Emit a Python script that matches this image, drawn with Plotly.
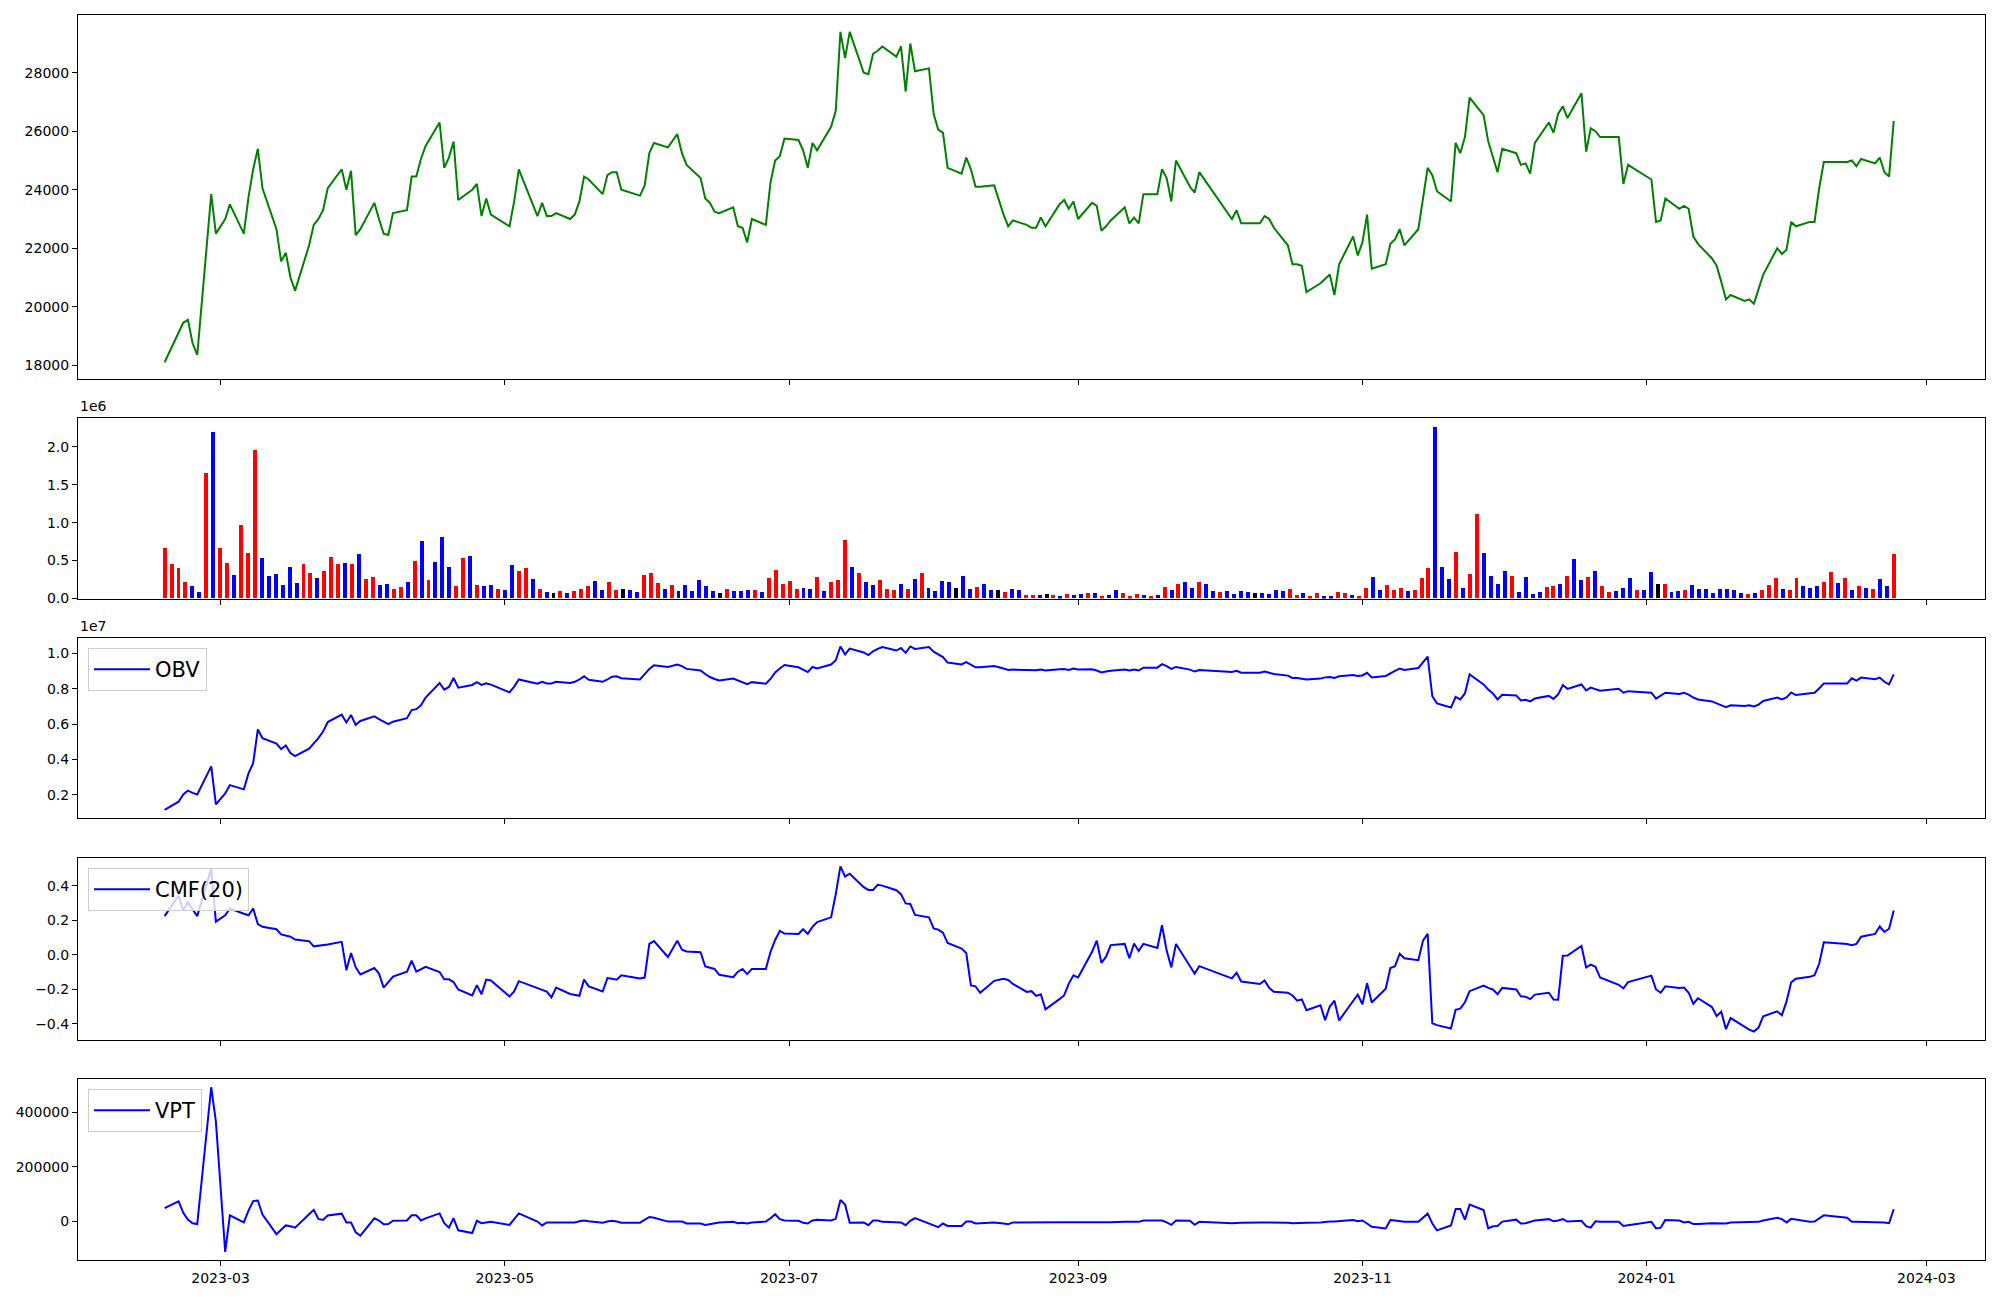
import pandas as pd
import plotly.graph_objects as go

# ---------------- data ----------------
holidays = ["2023-03-01", "2023-05-01", "2023-05-05", "2023-05-29", "2023-06-06",
            "2023-08-15", "2023-09-28", "2023-09-29", "2023-10-02", "2023-10-03",
            "2023-10-09", "2023-12-25", "2023-12-29", "2024-01-01", "2024-02-09",
            "2024-02-12"]
dates = [d for d in pd.bdate_range("2023-02-17", "2024-02-23")
         if d.strftime("%Y-%m-%d") not in holidays]

close = [
    18100, 19100, 19450, 19550, 18750, 18350, 23850, 22500,
    23000, 23500, 22500, 23750, 24700, 25400, 24050, 22650, 21550, 21850, 21000, 20550,
    22100, 22800, 23000, 23300, 24050, 24700, 24000, 24650, 22450, 22650,
    23550, 23000, 22500, 22450, 23200, 23300, 24450, 24450, 25050, 25500, 26300, 24750,
    25100, 25650, 23650, 24000, 24200, 23100, 23700, 23150,
    22750, 23600, 24700, 23100, 23550, 23100, 23100, 23200, 23000, 23150, 23600, 24450,
    24350, 23850, 24500, 24600, 24600, 24000, 23800, 24150,
    25250, 25600, 25450, 25900, 25250, 24850, 24400, 23700, 23550, 23250, 23200, 23400,
    22750, 22700, 22200, 23000, 22800, 24250, 25000, 25150, 25750,
    25700, 25350, 24750, 25600, 25350, 26150, 26700, 29400, 28500, 29400, 28000, 27950,
    28650, 28750, 28900, 28550, 28900, 27350, 29000, 28050, 28150,
    26600, 26050, 25950, 24750, 24550, 25100, 24700, 24100, 24100, 24150, 23150, 22750,
    22950, 22800, 22700, 22700, 23050, 22750, 23500, 23650, 23350, 23600,
    23000, 23550, 23450, 22600, 22750, 22950, 23400, 22850, 23050, 22850, 23850, 23850,
    24700, 24400, 23600, 25000, 24100, 23900, 24600,
    23000, 23300, 22850, 22850, 23100, 23000, 22700, 22100, 21450, 21450, 21400, 20500,
    20800, 20950, 21100, 20400, 21450, 22400, 21750,
    22200, 23150, 21300, 21450, 22150, 22300, 22650, 22100, 22650, 23700, 24750, 24500,
    23950, 23600, 25600, 25250, 25800, 27150, 26550, 25650, 25150, 24600,
    25400, 25250, 24850, 24900, 24550, 25600, 26300, 25950, 26600, 26850, 26450, 27300,
    25300, 26100, 26000, 25800, 25800, 24200, 24850,
    24350, 22900, 22950, 23700, 23350, 23450, 23350, 22400, 22150, 21650, 21400, 20850,
    20250, 20400, 20200, 20250, 20100, 20600, 21100, 22000, 21800, 21950,
    22900, 22750, 22900, 22900, 24050, 24950, 24950, 25000, 24800, 25050, 24900, 25100,
    24600, 24450, 26350,
]

volume = [
    654000, 444000, 392000, 209000, 157000, 78000, 1647000, 2183000, 667000, 458000,
    301000, 967000, 588000, 1948000, 523000, 288000, 314000, 170000, 405000, 196000,
    444000, 327000, 261000, 353000, 536000, 444000, 458000, 444000, 575000, 248000,
    275000, 170000, 183000, 118000, 144000, 209000, 484000, 758000, 235000, 471000,
    810000, 405000, 157000, 523000, 549000, 170000, 157000, 170000, 118000, 105000,
    431000, 353000, 392000, 248000, 118000, 78000, 65000, 92000, 65000, 92000,
    118000, 157000, 222000, 105000, 209000, 105000, 118000, 105000, 78000, 301000,
    327000, 196000, 118000, 170000, 92000, 170000, 92000, 235000, 157000, 92000,
    65000, 118000, 92000, 92000, 105000, 105000, 78000, 261000, 366000, 183000,
    222000, 118000, 131000, 118000, 275000, 92000, 209000, 235000, 771000, 405000,
    327000, 209000, 170000, 235000, 118000, 105000, 183000, 118000, 248000, 327000,
    131000, 92000, 222000, 209000, 131000, 288000, 118000, 144000, 183000, 105000,
    105000, 78000, 118000, 105000, 39000, 39000, 39000, 52000, 39000, 26000,
    52000, 39000, 52000, 65000, 65000, 26000, 39000, 105000, 65000, 26000,
    52000, 39000, 26000, 39000, 144000, 105000, 183000, 209000, 131000, 209000,
    183000, 92000, 78000, 92000, 52000, 92000, 78000, 65000, 65000, 52000,
    105000, 92000, 118000, 39000, 65000, 26000, 65000, 26000, 26000, 78000,
    65000, 39000, 26000, 131000, 275000, 105000, 170000, 105000, 131000, 92000,
    105000, 261000, 392000, 2261000, 405000, 248000, 614000, 131000, 314000, 1111000,
    601000, 288000, 183000, 353000, 288000, 78000, 275000, 52000, 78000, 144000,
    157000, 183000, 288000, 510000, 235000, 275000, 353000, 157000, 78000, 92000,
    131000, 261000, 105000, 105000, 340000, 183000, 183000, 78000, 92000, 105000,
    170000, 118000, 118000, 65000, 118000, 118000, 105000, 65000, 52000, 65000,
    105000, 170000, 261000, 118000, 105000, 261000, 157000, 131000, 157000, 209000,
    340000, 196000, 261000, 105000, 157000, 131000, 118000, 248000, 157000, 575000,
]

# candle direction per bar: r = up, b = down, k = unchanged
direction = list(
    "rrrrbbrbrr" "brrrbbbbbb" "rrbrrrbrbr" "rbbrrbrbrb" "bbrrbrbbrb"
    "brrbrbkrbr" "rrbbrrkbbr" "rrbrbbbbbb" "krbbbrbrrr" "rrbbrbrrrb"
    "rbbrrrbrbr" "bbbbkbbrbb" "krbbrrbkrb" "rbbrbrbbrr" "rbrbrbrbbr"
    "bbrbbbbkbb" "bbrrbrrbbr" "rbrrbbrrrb" "rrrbbbrbrr" "bbbbrbbbbr"
    "rbrbbrbrrb" "bbrbbkrbbr" "bbbbbbbbrb" "rrrbrrbbbr" "rbrbrbrbbr"
)

obv = [
    1140000, 1600000, 2010000, 2230000, 2100000, 2010000, 3600000, 1450000,
    2070000, 2540000, 2300000, 3200000, 3780000, 5690000, 5200000, 4890000, 4580000, 4780000,
    4360000, 4180000, 4600000, 4890000, 5200000, 5570000, 6110000, 6530000, 6090000, 6510000,
    5950000, 6170000,
    6440000, 6280000, 6130000, 5990000, 6130000, 6330000, 6790000, 6840000, 7060000, 7500000,
    8320000, 7950000, 8100000, 8610000, 8060000, 8210000, 8370000, 8210000, 8300000, 8230000,
    7790000, 8120000, 8520000, 8280000, 8390000, 8300000, 8300000, 8390000, 8320000, 8390000,
    8520000, 8700000, 8500000, 8390000, 8520000, 8680000, 8700000, 8590000, 8520000, 8790000,
    9120000, 9320000, 9230000, 9370000, 9280000, 9120000, 9030000, 8830000, 8660000, 8550000,
    8460000, 8570000, 8480000, 8390000, 8260000, 8370000, 8280000, 8550000, 8920000, 9140000,
    9340000,
    9210000, 9080000, 8940000, 9230000, 9140000, 9370000, 9610000, 10390000, 9940000, 10270000,
    10050000, 9900000, 10120000, 10250000, 10360000, 10160000, 10300000, 10030000, 10390000,
    10250000, 10360000,
    10100000, 9940000, 9790000, 9480000, 9370000, 9500000, 9370000, 9210000, 9210000, 9280000,
    9140000, 9060000, 9080000, 9060000, 9040000, 9040000, 9080000, 9030000, 9100000, 9120000,
    9060000, 9140000,
    9080000, 9100000, 9030000, 8920000, 8970000, 9010000, 9080000, 9030000, 9080000, 9030000,
    9190000, 9190000, 9390000, 9280000, 9120000, 9230000, 9080000, 8970000, 9060000,
    8940000, 9010000, 8900000, 8900000, 8970000, 8900000, 8830000, 8740000, 8610000, 8610000,
    8570000, 8520000, 8570000, 8640000, 8660000, 8610000, 8700000, 8770000, 8720000,
    8750000, 8900000, 8640000, 8720000, 8880000, 9010000, 9140000, 9060000, 9170000, 9500000,
    9810000, 7570000, 7170000, 6930000, 7530000, 7390000, 7730000, 8810000, 8240000, 7950000,
    7730000, 7390000,
    7660000, 7620000, 7330000, 7370000, 7280000, 7440000, 7590000, 7420000, 7680000, 8210000,
    7990000, 8240000, 7900000, 8060000, 7990000, 7880000, 7990000, 7770000, 7860000,
    7770000, 7440000, 7600000, 7770000, 7700000, 7770000, 7660000, 7500000, 7390000, 7280000,
    7170000, 7060000, 6950000, 7060000, 7020000, 7060000, 6990000, 7100000, 7300000, 7500000,
    7390000, 7500000,
    7790000, 7640000, 7750000, 7770000, 8010000, 8300000, 8300000, 8590000, 8460000, 8630000,
    8540000, 8630000, 8390000, 8240000, 8810000,
]

cmf = [
    0.223, 0.343, 0.255, 0.304, 0.262, 0.223, 0.499, 0.191,
    0.228, 0.267, 0.237, 0.228, 0.267, 0.177, 0.161, 0.147, 0.117, 0.110, 0.104, 0.087,
    0.078, 0.048, 0.051, 0.053, 0.058, 0.074, -0.090, 0.009, -0.074, -0.115,
    -0.078, -0.110, -0.191, -0.159, -0.127, -0.099, -0.035, -0.099, -0.085, -0.071,
    -0.101, -0.143, -0.143, -0.159, -0.202, -0.237, -0.177, -0.230, -0.145, -0.150,
    -0.242, -0.214, -0.154, -0.191, -0.202, -0.214, -0.248, -0.191, -0.228, -0.232,
    -0.239, -0.145, -0.184, -0.214, -0.136, -0.140, -0.145, -0.120, -0.138, -0.133,
    0.062, 0.078, -0.014, 0.081, 0.028, 0.018, 0.014, -0.069, -0.074, -0.083,
    -0.117, -0.131, -0.099, -0.083, -0.113, -0.083, -0.083, 0.016, 0.085, 0.138, 0.122,
    0.120, 0.147, 0.120, 0.161, 0.189, 0.216, 0.350, 0.511, 0.453, 0.469,
    0.391, 0.375, 0.375, 0.405, 0.400, 0.373, 0.350, 0.297, 0.294, 0.230, 0.216,
    0.152, 0.145, 0.127, 0.067, 0.035, 0.009, -0.179, -0.184, -0.221, -0.152,
    -0.140, -0.147, -0.170, -0.216, -0.212, -0.239, -0.230, -0.317, -0.258, -0.237,
    -0.168, -0.120,
    -0.133, 0.016, 0.081, -0.048, -0.012, 0.055, 0.062, -0.021, 0.064, 0.021,
    0.062, 0.039, 0.170, 0.023, -0.074, 0.062, -0.067, -0.110, -0.067,
    -0.138, -0.106, -0.156, -0.170, -0.150, -0.193, -0.216, -0.221, -0.237, -0.267,
    -0.260, -0.322, -0.294, -0.380, -0.301, -0.267, -0.382, -0.269, -0.232,
    -0.288, -0.166, -0.278, -0.198, -0.078, -0.067, 0.005, -0.021, -0.032, 0.081,
    0.120, -0.398, -0.409, -0.428, -0.320, -0.313, -0.276, -0.212, -0.179, -0.193,
    -0.202, -0.230,
    -0.193, -0.202, -0.242, -0.244, -0.258, -0.232, -0.221, -0.260, -0.262, -0.007,
    -0.005, 0.051, -0.074, -0.058, -0.071, -0.133, -0.175, -0.196, -0.159,
    -0.122, -0.202, -0.221, -0.184, -0.193, -0.191, -0.221, -0.285, -0.253, -0.304,
    -0.357, -0.331, -0.432, -0.368, -0.421, -0.435, -0.446, -0.423, -0.357, -0.329,
    -0.352, -0.271,
    -0.161, -0.140, -0.129, -0.120, -0.053, 0.071, 0.062, 0.055, 0.062, 0.104,
    0.120, 0.163, 0.131, 0.150, 0.255,
]

vpt = [
    49000, 74000, 32000, 7000, -6000, -9000, 491000, 366000,
    -111000, 23000, -3000, 40000, 75000, 77000, 26000, -46000, -30000, -14000, -17000, -22000,
    27000, 43000, 10000, 6000, 22000, 29000, -3000, -3000, -39000, -51000,
    12000, 4000, -10000, -9000, 3000, 4000, 23000, 23000, 4000, 12000,
    30000, -6000, -22000, 12000, -32000, -42000, 3000, -6000, -3000, -1000,
    -12000, 9000, 30000, 0, -14000, -3000, -3000, -3000, -3000, -3000,
    1000, 4000, 1000, -4000, 0, 3000, 0, -4000, -4000, 7000,
    17000, 14000, 0, 0, 0, -7000, -7000, -12000, -9000, -4000,
    -3000, -1000, -6000, -4000, -7000, -3000, 0, 12000, 27000, 9000, 4000,
    3000, -4000, -7000, 4000, 7000, 4000, 10000, 79000, 62000, -4000,
    -3000, -13000, 4000, 4000, -1000, -3000, -3000, -13000, 3000, 13000, -7000,
    -14000, -20000, -7000, -16000, -16000, 0, 0, -7000, -6000, -3000,
    -7000, -10000, -3000, -2000, -2000, -1000, -1000, -2000, -2000, -2000, -1000, -2000,
    -2000, -2000, -2000, -4000, -3000, -2000, -1000, -1000, -1000, -1000,
    4000, 4000, 4000, -3000, -12000, 4000, 3000, -12000, -1000,
    -6000, -5000, -4000, -3000, -3000, -3000, -3000, -4000, -6000, -5000,
    -3000, -4000, -3000, -1000, 0, 0, 1000, 6000, 1000,
    4000, -7000, -19000, -25000, 6000, 4000, 1000, -1000, -1000, 14000,
    29000, -7000, -32000, -14000, 46000, 46000, 7000, 62000, 42000, -25000, -17000, -16000,
    0, 7000, -7000, -6000, 0, 4000, 9000, 1000, 4000, 9000,
    0, 3000, -17000, -22000, 1000, -1000, -1000, -16000, -13000,
    -1000, -25000, -22000, 6000, 4000, -3000, -1000, -9000, -9000, -6000,
    -6000, -7000, -7000, -3000, -1000, -1000, -1000, -1000, 4000, 14000, 9000, -3000,
    10000, 7000, -1000, 0, 12000, 23000, 14000, -1000, -1000, -1000,
    -1000, -1000, -3000, -6000, 45000,
]

price_ticks = [18000, 20000, 22000, 24000, 26000, 28000]
volume_ticks = [0, 500000, 1000000, 1500000, 2000000]
volume_ticktext = ["0.0", "0.5", "1.0", "1.5", "2.0"]
obv_ticks = [2000000, 4000000, 6000000, 8000000, 10000000]
obv_ticktext = ["0.2", "0.4", "0.6", "0.8", "1.0"]
cmf_ticks = [-0.4, -0.2, 0.0, 0.2, 0.4]
cmf_ticktext = ["\u22120.4", "\u22120.2", "0.0", "0.2", "0.4"]
vpt_ticks = [0, 200000, 400000]
vpt_ticktext = ["0", "200000", "400000"]

assert len(dates) == len(close) == len(volume) == len(obv) == len(cmf) == len(vpt) == len(direction)

# ---------------- figure ----------------
# the page body adds 8px on every side; the figure is sized so that the
# whole page is exactly 2000x1300, and positions are given in page pixels
OFF = 8
W, H = 2000 - 2 * OFF, 1300 - 2 * OFF
PLOT_L, PLOT_R = 78, 1985          # page x of the axes' left/right edges
ML, MR = PLOT_L - OFF, (W + OFF) - PLOT_R
color_map = {"r": "red", "b": "blue", "k": "black"}
bar_colors = [color_map[c] for c in direction]
bar_x = pd.date_range(dates[0], dates[-1], periods=len(volume))

def pad(vals):
    lo, hi = min(vals), max(vals)
    m = 0.05 * (hi - lo)
    return [lo - m, hi + m]

# panel pixel extents (top, bottom) in the 2000x1300 page
panels = [(15.3, 378.8), (418.4, 598.5), (638.3, 818.0), (858.2, 1039.8), (1079.0, 1260.2)]
def yfrac(page_y):
    return 1 - (page_y - OFF) / H
def dom(tb):
    return [yfrac(tb[1]), yfrac(tb[0])]

tickfont = dict(family="DejaVu Sans", size=14, color="black")
xrange_ = ["2023-01-29 10:00", "2024-03-13 14:00"]

fig = go.Figure()
fig.add_trace(go.Scatter(x=dates, y=close, mode="lines", line=dict(color="green", width=2),
                         showlegend=False, xaxis="x", yaxis="y"))
fig.add_trace(go.Bar(x=bar_x, y=volume, marker=dict(color=bar_colors, line=dict(width=0)),
                     width=0.85 * 86400000, showlegend=False, xaxis="x2", yaxis="y2"))
fig.add_trace(go.Scatter(x=dates, y=obv, mode="lines", line=dict(color="blue", width=2),
                         name="OBV", legend="legend", xaxis="x3", yaxis="y3"))
fig.add_trace(go.Scatter(x=dates, y=cmf, mode="lines", line=dict(color="blue", width=2),
                         name="CMF(20)", legend="legend2", xaxis="x4", yaxis="y4"))
fig.add_trace(go.Scatter(x=dates, y=vpt, mode="lines", line=dict(color="blue", width=2),
                         name="VPT", legend="legend3", xaxis="x5", yaxis="y5"))

layout = dict(
    width=W, height=H,
    margin=dict(l=ML, r=MR, t=0, b=0, autoexpand=False),
    plot_bgcolor="white", paper_bgcolor="white",
    font=dict(family="DejaVu Sans", size=14, color="black"),
    bargap=0,
    hovermode=False,
)

axis_common = dict(showline=True, linecolor="black", linewidth=1.1, mirror=True,
                   ticks="outside", ticklen=5, tickwidth=1.1, tickcolor="black",
                   showgrid=False, zeroline=False, tickfont=tickfont, automargin=False)

yspecs = [
    (pad(close), price_ticks, [str(t) for t in price_ticks]),
    ([0, max(volume) * 1.05], volume_ticks, volume_ticktext),
    (pad(obv), obv_ticks, obv_ticktext),
    (pad(cmf), cmf_ticks, cmf_ticktext),
    (pad(vpt), vpt_ticks, vpt_ticktext),
]
for i in range(5):
    sfx = "" if i == 0 else str(i + 1)
    layout["xaxis" + sfx] = dict(axis_common, type="date", range=xrange_, domain=[0, 1],
                                 anchor="y" + sfx, tickformat="%Y-%m", dtick="M2",
                                 tick0="2023-01-01", showticklabels=(i == 4),
                                 **({} if i == 0 else {"matches": "x"}))
    rng, tv, tt = yspecs[i]
    layout["yaxis" + sfx] = dict(axis_common, range=rng, domain=dom(panels[i]),
                                 anchor="x" + sfx, tickmode="array", tickvals=tv, ticktext=tt)

leg_common = dict(xanchor="left", yanchor="top", x=10 / (PLOT_R - PLOT_L),
                  bgcolor="rgba(255,255,255,0.8)", bordercolor="#cccccc", borderwidth=1,
                  itemwidth=56,
                  font=dict(family="DejaVu Sans", size=21, color="black"))
layout["legend"] = dict(leg_common, y=yfrac(648))
layout["legend2"] = dict(leg_common, y=yfrac(868))
layout["legend3"] = dict(leg_common, y=yfrac(1089))

layout["annotations"] = [
    dict(text="1e6", xref="paper", yref="paper", x=0, y=yfrac(416), xanchor="left",
         yanchor="bottom", showarrow=False, font=tickfont),
    dict(text="1e7", xref="paper", yref="paper", x=0, y=yfrac(636), xanchor="left",
         yanchor="bottom", showarrow=False, font=tickfont),
]

fig.update_layout(**layout)
fig.write_html("out.html")
